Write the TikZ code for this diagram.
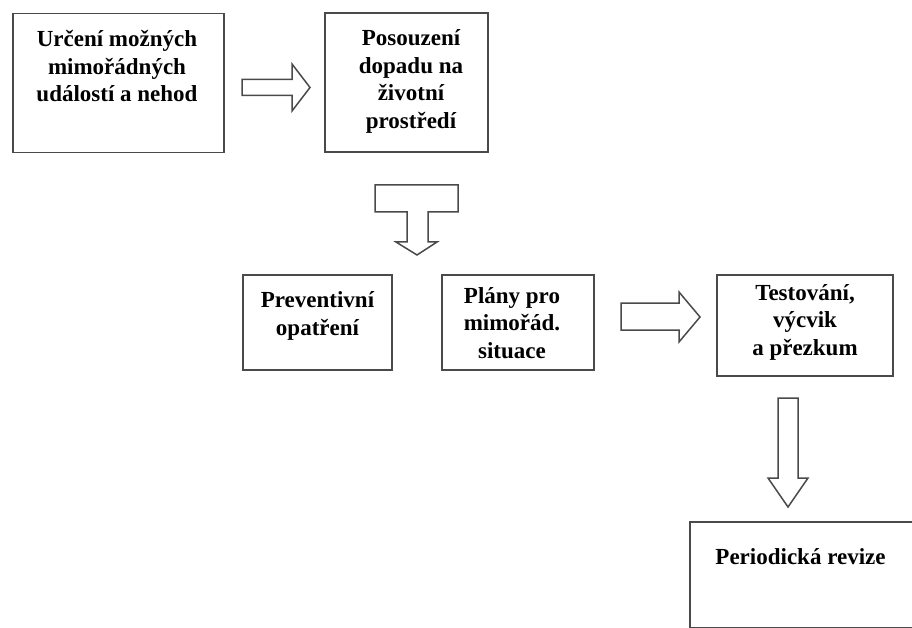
\documentclass[tikz,border=0pt]{standalone}
\usepackage{fontspec}
\setmainfont{Liberation Serif}
\definecolor{edge}{HTML}{4A4A4A}
\definecolor{faint}{HTML}{C8C8C8}
\tikzset{
  boxnode/.style={draw=edge, line width=1.9pt, rectangle, inner sep=0pt},
  txt/.style={font=\bfseries\fontsize{23}{27.5}\selectfont, align=center, anchor=base, inner sep=0pt},
  blockarrow/.style={draw=edge, line width=1.5pt, fill=white, line join=miter}
}
\begin{document}
\begin{tikzpicture}[x=1pt,y=-1pt]
\useasboundingbox (0,0) rectangle (912,628);
\clip (0,0) rectangle (912,628);
% boxes
\node[boxnode, minimum width=211pt, minimum height=139pt] (b1) at (118.5,83) {};
\node[boxnode, minimum width=163pt, minimum height=139pt] (b2) at (406.5,82.5) {};
\node[boxnode, minimum width=149pt, minimum height=95pt] (b3) at (317.5,322.5) {};
\node[boxnode, minimum width=152pt, minimum height=95pt] (b4) at (518,322.5) {};
\node[boxnode, minimum width=176pt, minimum height=101pt] (b5) at (805,325.5) {};
\node[boxnode, minimum width=240pt, minimum height=106.3pt] (b6) at (810,575.15) {};
% texts (anchored at the baseline of the last line)
\node[txt] (t1) at (117,102) {Určení možných\\mimořádných\\událostí a nehod};
\node[txt] (t2) at (411,128.5) {Posouzení\\dopadu na\\životní\\prostředí};
\node[txt] (t3) at (317.5,335) {Preventivní\\opatření};
\node[txt] (t4) at (512,358) {Plány pro\\mimořád.\\situace};
\node[txt] (t5) at (805,355) {Testování,\\výcvik\\a přezkum};
\node[txt] (t6) at (800.5,564) {Periodická revize};
% block arrows
\draw[blockarrow] (242,79.5) -- (292,79.5) -- (292,64) -- (310,87.5) -- (292,111) -- (292,95.5) -- (242,95.5) -- cycle;
\draw[blockarrow] (375,185) -- (458,185) -- (458,212) -- (428,212) -- (428,242) -- (437,242) -- (417,255) -- (396,242) -- (407,242) -- (407,212) -- (375,212) -- cycle;
\draw[blockarrow] (621,303) -- (679,303) -- (679,292) -- (700,317) -- (679,342) -- (679,330) -- (621,330) -- cycle;
\draw[blockarrow] (778,398) -- (798,398) -- (798,478) -- (808,478) -- (788,507) -- (768,478) -- (778,478) -- cycle;
\end{tikzpicture}
\end{document}
